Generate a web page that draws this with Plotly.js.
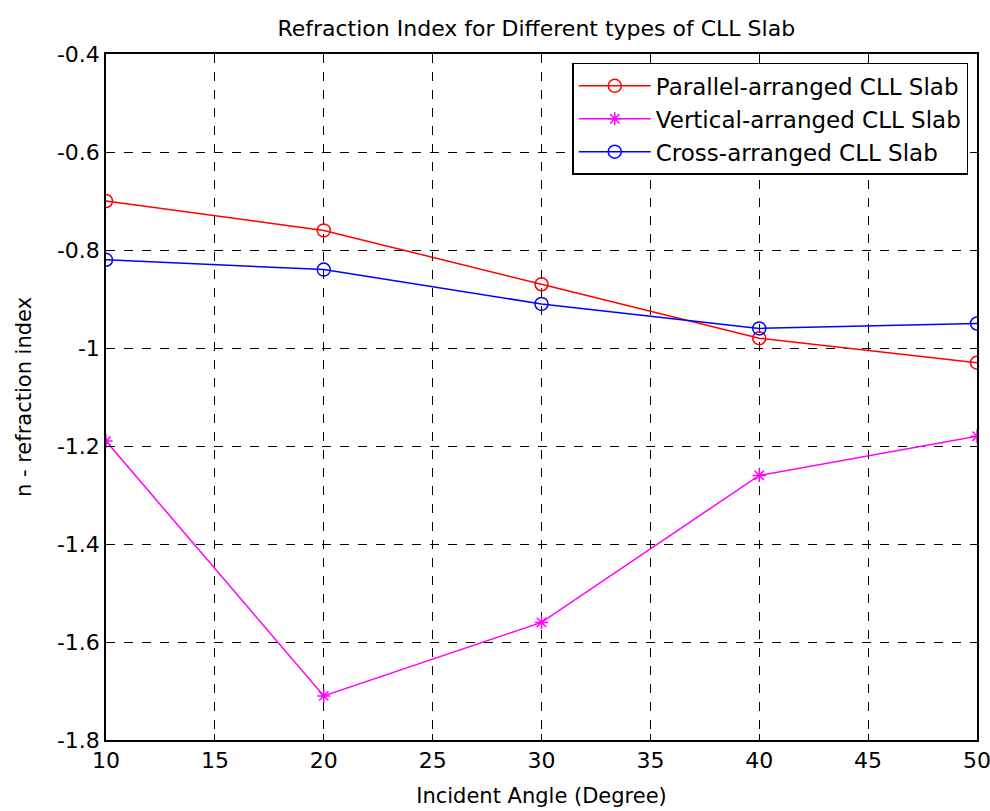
<!DOCTYPE html>
<html><head><meta charset="utf-8">
<script src="https://cdn.plot.ly/plotly-3.0.1.min.js"></script>
<style>html,body{margin:0;padding:0;background:#fff;}</style>
</head><body>
<div id="chart" style="width:990px;height:811px;"></div>
<script>
const angles = [10, 20, 30, 40, 50];
const parallelN = [-0.70, -0.76, -0.87, -0.98, -1.03];
const verticalN = [-1.19, -1.71, -1.56, -1.26, -1.18];
const crossN = [-0.82, -0.84, -0.91, -0.96, -0.95];
const xTicks = [10, 15, 20, 25, 30, 35, 40, 45, 50];
const yTicks = [-1.8, -1.6, -1.4, -1.2, -1, -0.8, -0.6, -0.4];
const yTickText = ['-1.8', '-1.6', '-1.4', '-1.2', '-1', '-0.8', '-0.6', '-0.4'];

const font = {family: 'DejaVu Sans, sans-serif', color: '#000'};
const traces = [
  {x: angles, y: parallelN, name: 'Parallel-arranged CLL Slab', mode: 'lines+markers',
   line: {color: '#ff0000', width: 1.5}, marker: {symbol: 'circle-open', size: 13, color: '#ff0000', line: {width: 1.5}}},
  {x: angles, y: verticalN, name: 'Vertical-arranged CLL Slab', mode: 'lines+markers',
   line: {color: '#ff00ff', width: 1.5}, marker: {symbol: 'asterisk-open', size: 11, color: '#ff00ff', line: {width: 1.5, color: '#ff00ff'}}},
  {x: angles, y: crossN, name: 'Cross-arranged CLL Slab', mode: 'lines+markers',
   line: {color: '#0000ff', width: 1.5}, marker: {symbol: 'circle-open', size: 13, color: '#0000ff', line: {width: 1.5}}}
];
const axisCommon = {
  showline: true, linecolor: '#000', linewidth: 1.5, mirror: 'ticks', ticks: 'inside', ticklen: 6,
  tickcolor: '#000', showgrid: true, gridcolor: '#000', griddash: 'dash', gridwidth: 1,
  zeroline: false, tickfont: Object.assign({size: 22}, font), ticklabeloverflow: 'allow'
};
const layout = {
  width: 990, height: 811,
  margin: {l: 106, r: 13, t: 54, b: 71},
  paper_bgcolor: '#fff', plot_bgcolor: '#fff',
  title: {text: 'Refraction Index for Different types of CLL Slab', font: Object.assign({size: 22}, font), x: 0.5417, xanchor: 'center', y: 0.965, yanchor: 'middle'},
  xaxis: Object.assign({}, axisCommon, {range: [10, 50], tickvals: xTicks, ticktext: xTicks.map(String),
    title: {text: 'Incident Angle (Degree)', font: Object.assign({size: 21}, font), standoff: 16}}),
  yaxis: Object.assign({}, axisCommon, {range: [-1.8, -0.4], tickvals: yTicks, ticktext: yTickText,
    title: {text: 'n - refraction index', font: Object.assign({size: 21}, font), standoff: 20}}),
  legend: {x: 0.99, xanchor: 'right', y: 0.987, yanchor: 'top', bgcolor: '#fff', bordercolor: '#000', borderwidth: 1.5,
    font: Object.assign({size: 23}, font), tracegroupgap: 0, itemwidth: 72},
  showlegend: true
};
Plotly.newPlot('chart', traces, layout, {displayModeBar: false});
</script>
</body></html>
